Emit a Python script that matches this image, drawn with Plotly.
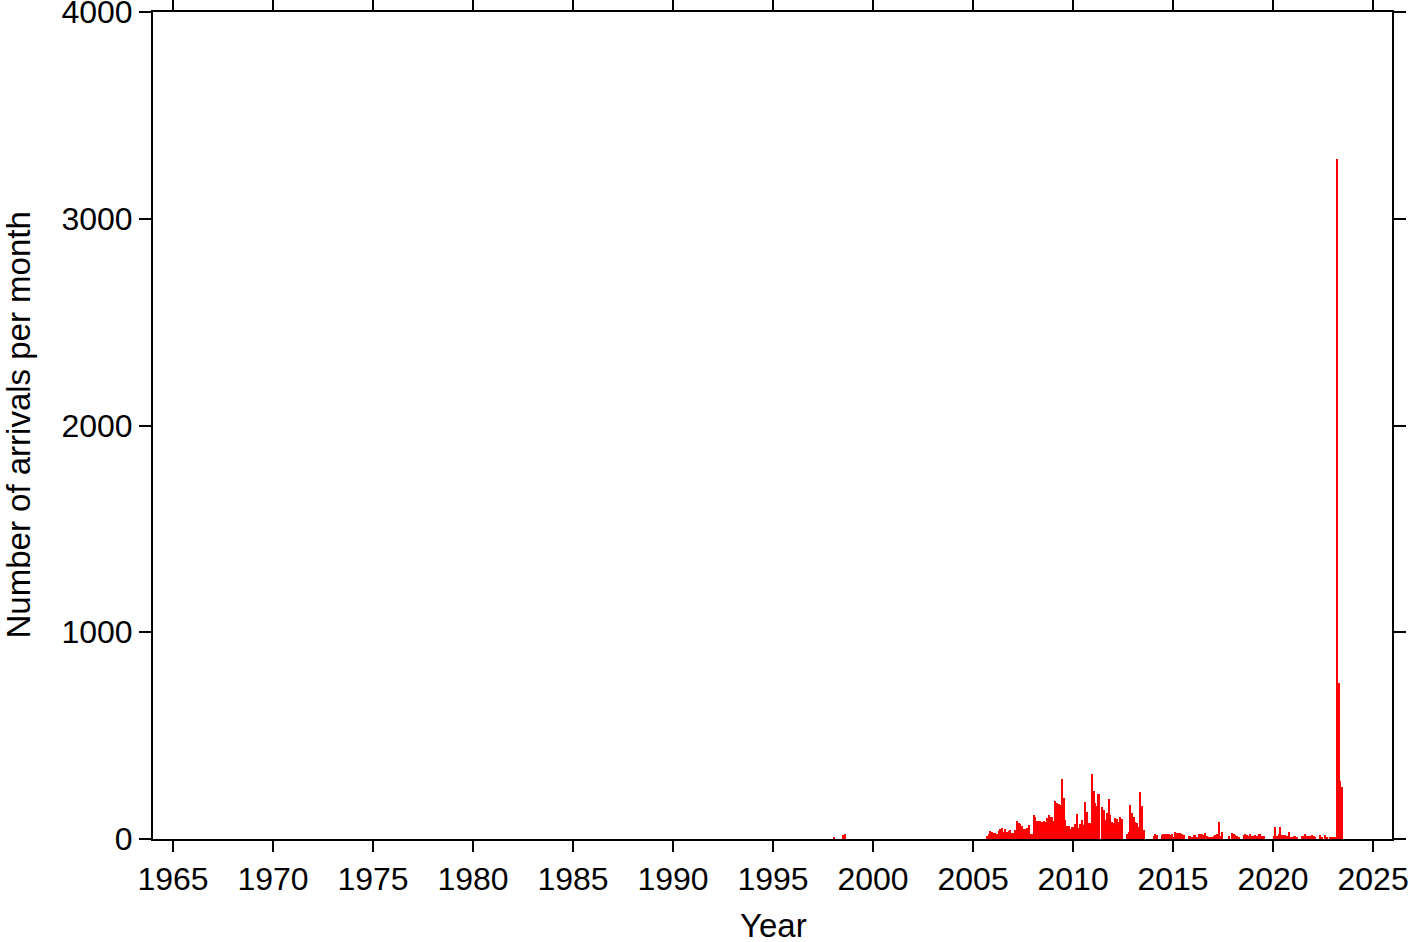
import pandas as pd
import plotly.graph_objects as go

# Sparse early arrivals (month -> count)
early_months = ["1998-01", "1998-07", "1998-08"]
early_counts = [5, 18, 22]

# Continuous monthly series starting September 2005
main_start = "2005-09"
main_counts = [
    15, 25, 40, 35, 30, 28, 25, 38, 48, 52,
    36, 48, 36, 40, 44, 28, 30, 45, 88, 77,
    73, 65, 48, 50, 55, 68, 25, 25, 115, 105,
    88, 88, 85, 80, 86, 83, 102, 116, 108, 106,
    85, 183, 172, 168, 163, 288, 196, 92, 65, 63,
    48, 56, 60, 72, 122, 52, 73, 92, 68, 178,
    130, 77, 78, 315, 232, 172, 160, 219,
    0,
    155, 140, 92, 127, 193, 116, 84, 76, 100, 95, 84, 105, 95,
    0, 0,
    24, 35, 164, 127, 105, 81, 76, 60, 226, 160, 44,
    0, 0, 0, 0, 0,
    16, 24, 19,
    0, 0,
    19, 24, 24, 24, 24, 19, 24, 11, 34, 30, 29, 29, 24, 17,
    0, 0,
    13, 13, 11, 17, 17, 11, 24, 24, 24, 17, 27, 13, 11, 8, 8, 15, 17, 24, 82, 13, 34,
    0, 0, 0,
    13,
    0,
    27, 24, 17, 13, 9,
    0, 0,
    17, 24, 17, 13, 24, 13, 13, 19, 13, 24, 24, 13, 13,
    0, 0, 0, 0, 0,
    13, 60, 13, 24, 60, 19, 19, 19, 13, 32, 8, 8, 13, 13, 11,
    0, 0,
    13, 13, 24, 13, 13, 13, 17, 13, 11,
    0, 0,
    17, 11,
    0,
    17, 11,
    0,
    11, 11, 11, 11,
    3290, 753, 280, 253,
]

x_tick_years = list(range(1965, 2030, 5))
y_ticks = [0, 1000, 2000, 3000, 4000]
x_title = "Year"
y_title = "Number of arrivals per month"

main_months = pd.date_range(main_start + "-01", periods=len(main_counts), freq="MS")
months = pd.to_datetime([m + "-01" for m in early_months]).append(main_months)
counts = early_counts + main_counts
mid = months + pd.Timedelta(days=15)

fig = go.Figure()
fig.add_trace(go.Bar(
    x=mid, y=counts,
    width=30 * 86400000,
    marker=dict(color="#ff0000", line=dict(width=0)),
))

FAM = "Liberation Sans, Arial, Helvetica, sans-serif"
font = dict(family=FAM, size=32, color="black")
tfont = dict(family=FAM, size=33, color="black")

L, R, T, B = 153, 27, 12, 103
W, H = 1419, 942
pw, ph = W - L - R, H - T - B

fig.update_layout(
    width=W, height=H,
    margin=dict(l=L, r=R, t=T, b=B),
    paper_bgcolor="white", plot_bgcolor="white",
    showlegend=False, bargap=0,
    font=font,
)
fig.update_xaxes(
    type="date",
    automargin=False,
    ticklabeloverflow="allow",
    range=["1964-01-01", "2025-12-12"],
    tickvals=[pd.Timestamp(f"{y}-01-01") for y in x_tick_years],
    ticktext=[str(y) for y in x_tick_years],
    ticks="outside", ticklen=11, tickwidth=1.5, tickcolor="black",
    showline=True, linewidth=2, linecolor="black", mirror="ticks",
    showgrid=False, zeroline=False,
    tickfont=font,
)
fig.update_yaxes(
    automargin=False,
    ticklabeloverflow="allow",
    range=[0, 4000],
    tickvals=y_ticks,
    ticktext=[str(v) for v in y_ticks],
    ticks="outside", ticklen=12, tickwidth=1.5, tickcolor="black",
    showline=True, linewidth=2, linecolor="black", mirror="ticks",
    showgrid=False, zeroline=False,
    tickfont=font,
)

fig.add_annotation(
    text=x_title, xref="paper", yref="paper",
    x=(773 - L) / pw, y=(H - B - 925) / ph,
    xanchor="center", yanchor="middle", showarrow=False, font=tfont,
)
fig.add_annotation(
    text=y_title, xref="paper", yref="paper", textangle=-90,
    x=(18 - L) / pw, y=0.5,
    xanchor="center", yanchor="middle", showarrow=False, font=tfont,
)

fig.write_html(
    "out.html",
    config={"displayModeBar": False},
    post_script="document.body.style.margin='0';document.body.style.overflow='hidden';",
)
